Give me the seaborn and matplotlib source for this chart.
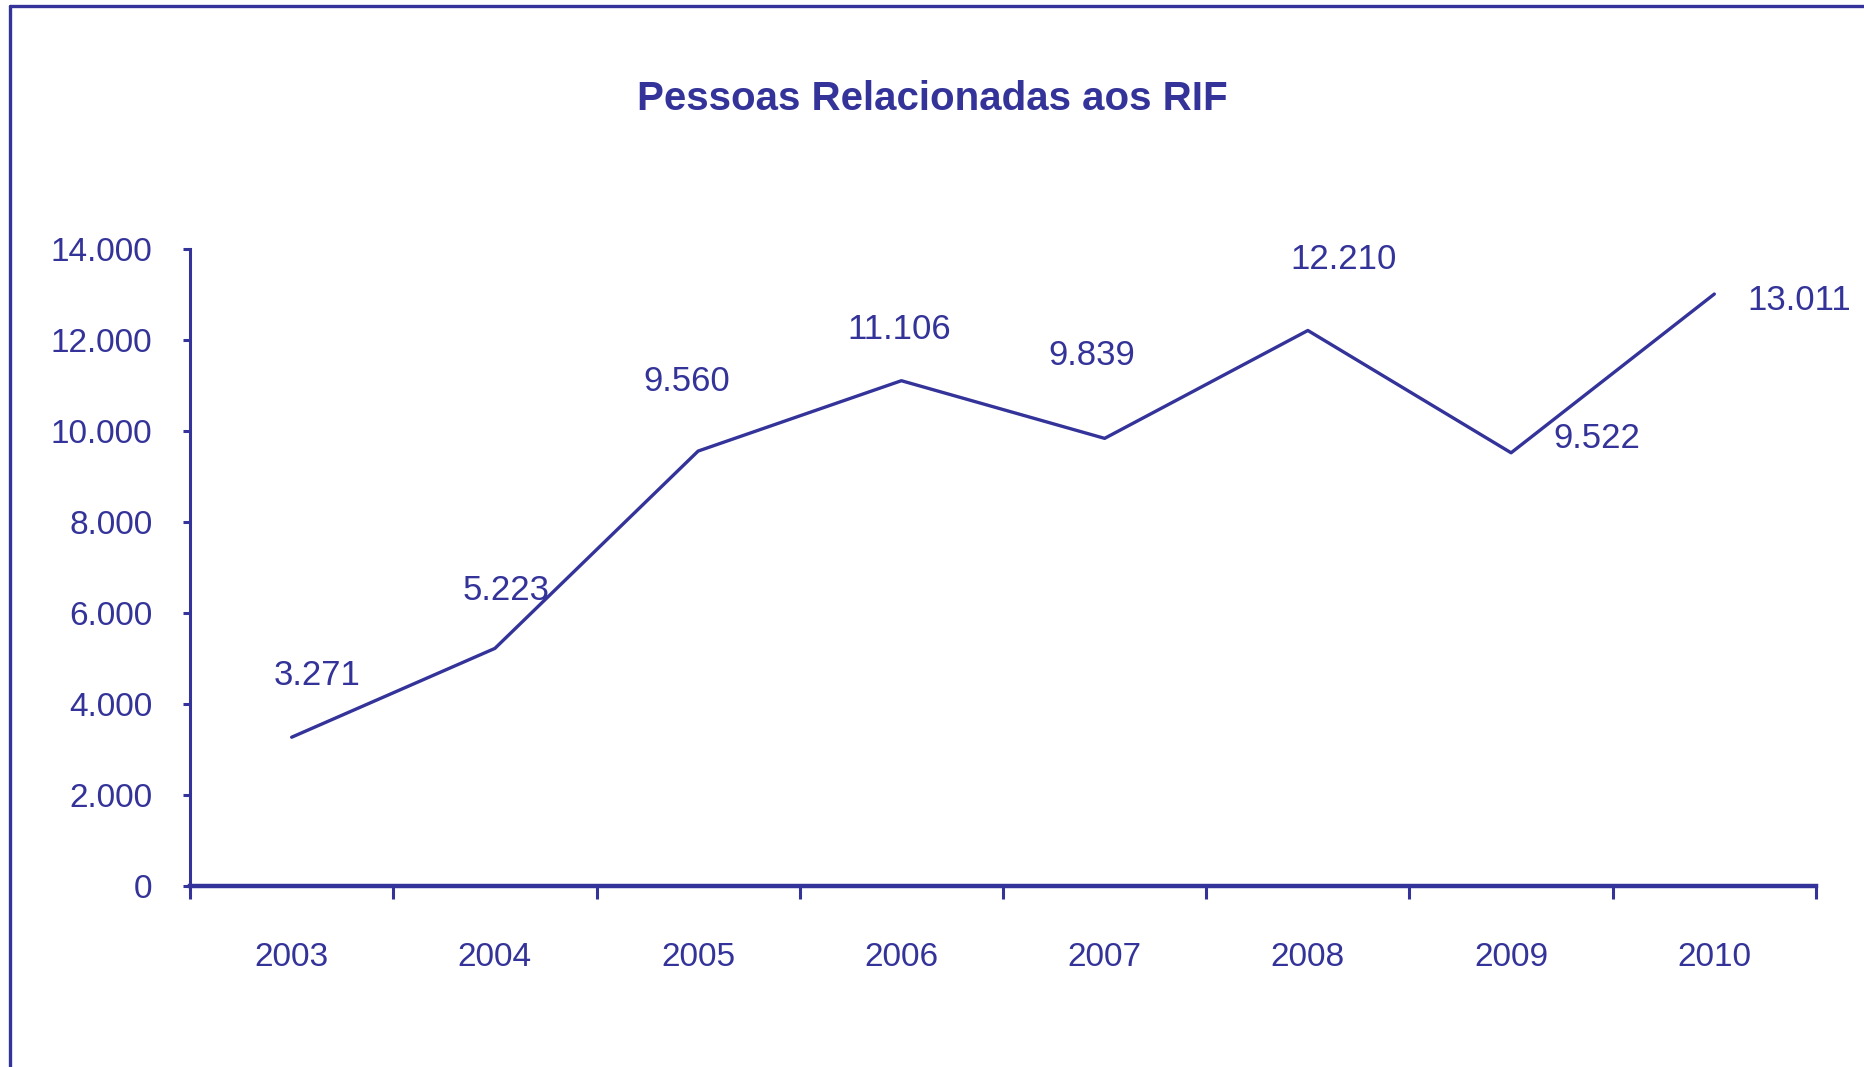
import matplotlib
matplotlib.use("Agg")
import matplotlib.pyplot as plt
from matplotlib import font_manager
from matplotlib.lines import Line2D
from matplotlib.ticker import FixedLocator, FuncFormatter
import seaborn as sns
import pandas as pd

years = [2003, 2004, 2005, 2006, 2007, 2008, 2009, 2010]
pessoas = [3271, 5223, 9560, 11106, 9839, 12210, 9522, 13011]
# label offsets in pixels (dx, dy)
label_offsets = [(25, 62), (11, 58), (-11, 70), (-2, 51), (-13, 83), (36, 71), (86, 14), (85, -6)]

azul = "#333399"

sns.set_style("white")
plt.rcParams["font.family"] = ["Liberation Sans", "DejaVu Sans"]

names = {f.name for f in font_manager.fontManager.ttflist}
if "Liberation Sans Narrow" in names:
    title_font, title_size = ["Liberation Sans Narrow", "Liberation Sans"], 34
else:
    title_font, title_size = ["Liberation Sans", "DejaVu Sans"], 29

df = pd.DataFrame({"ano": years, "pessoas": pessoas})

fig = plt.figure(figsize=(18.65, 10.67), dpi=100)
ax = fig.add_axes([0.1019, 0.1696, 0.8718, 0.597])
sns.lineplot(data=df, x="ano", y="pessoas", ax=ax, color=azul, linewidth=2.4)

ax.set_xlim(years[0] - 0.5, years[-1] + 0.5)
ax.set_ylim(0, 14000)
ax.yaxis.set_major_locator(FixedLocator(range(0, 14001, 2000)))
ax.yaxis.set_major_formatter(FuncFormatter(lambda v, p: f"{int(v):,}".replace(",", ".")))

# tick marks on category boundaries, labels at the centres
ax.xaxis.set_major_locator(FixedLocator([y - 0.5 for y in years] + [years[-1] + 0.5]))
ax.xaxis.set_major_formatter(FuncFormatter(lambda v, p: ""))
ax.xaxis.set_minor_locator(FixedLocator(years))
ax.xaxis.set_minor_formatter(FuncFormatter(lambda v, p: str(int(round(v)))))

ax.tick_params(axis="x", which="major", direction="out", length=9, width=2.2, color=azul, bottom=True)
ax.tick_params(axis="x", which="minor", length=0, pad=40, labelsize=24, labelcolor=azul)
ax.tick_params(axis="y", which="major", direction="out", length=5, width=2.2, color=azul,
               left=True, pad=22, labelsize=24, labelcolor=azul)

for s in ["top", "right"]:
    ax.spines[s].set_visible(False)
ax.spines["left"].set_color(azul)
ax.spines["left"].set_linewidth(2.2)
ax.spines["bottom"].set_color(azul)
ax.spines["bottom"].set_linewidth(3.2)

ax.set_xlabel("")
ax.set_ylabel("")

for x, v, (dx, dy) in zip(years, pessoas, label_offsets):
    ax.annotate(f"{v:,}".replace(",", "."), (x, v), xytext=(dx, dy), textcoords="offset pixels",
                ha="center", va="center", fontsize=25, color=azul)

fig.text(0.5, 0.907, "Pessoas Relacionadas aos RIF", ha="center", va="center",
         fontsize=title_size, fontweight="bold", color=azul, family=title_font)

# frame of the original chart area (only top and left edges visible)
fig.add_artist(Line2D([10 / 1865, 1.0], [1 - 6 / 1067, 1 - 6 / 1067], transform=fig.transFigure,
                      color=azul, linewidth=2.4))
fig.add_artist(Line2D([10 / 1865, 10 / 1865], [1 - 6 / 1067, 0.0], transform=fig.transFigure,
                      color=azul, linewidth=2.4))

fig.savefig("out.png", dpi=100)
